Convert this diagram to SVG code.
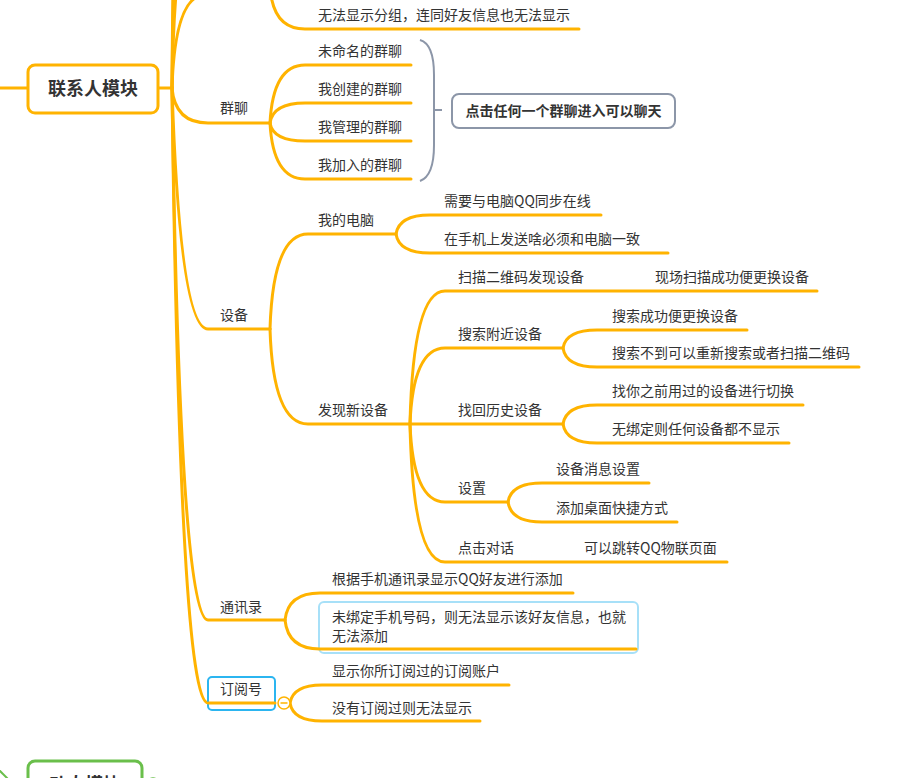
<svg xmlns="http://www.w3.org/2000/svg" width="903" height="778" viewBox="0 0 903 778">
<style>
.c{fill:none;stroke:#FFB300;stroke-width:3;stroke-linecap:round}
.t{font-family:"Noto Sans CJK SC","Noto Sans",sans-serif;font-size:14px;fill:#333}
.b{font-family:"Noto Sans CJK SC","Noto Sans",sans-serif;font-weight:bold;fill:#333}
</style>
<rect width="903" height="778" fill="#fff"/>
<g id="connectors">
<path class="c" d="M0,88 L28,88 M158,88 L172,88"/>
<path class="c" d="M172,88 Q175,-5 205,-5"/>
<path class="c" d="M172,88 Q175,-100 205,-100"/>
<path class="c" d="M172,88 Q175,-250 205,-250"/>
<path class="c" d="M172,88 Q175,-400 205,-400"/>
<path class="c" d="M270,-15 Q272,29 305,29 L579,29"/>
<path class="c" d="M172,88 Q175,123 208,123 L270,123"/>
<path class="c" d="M270,123 Q273,65 305,65 L411,65"/>
<path class="c" d="M270,123 Q273,103 305,103 L411,103"/>
<path class="c" d="M270,123 Q273,141 305,141 L411,141"/>
<path class="c" d="M270,123 Q273,179 305,179 L411,179"/>
<path class="c" d="M172,88 Q180,329 208,329 L270,329"/>
<path class="c" d="M270,329 Q273,234 308,234 L396,234"/>
<path class="c" d="M270,329 Q273,424 308,424 L563,424"/>
<path class="c" d="M396,234 Q399,215 430,215 L601,215"/>
<path class="c" d="M396,234 Q399,253 430,253 L668,253"/>
<path class="c" d="M410,424 Q413,291 445,291 L817,291"/>
<path class="c" d="M410,424 Q413,348 445,348 L563,348"/>
<path class="c" d="M410,424 Q413,502 445,502 L508,502"/>
<path class="c" d="M410,424 Q413,562 445,562 L727,562"/>
<path class="c" d="M563,348 Q566,330 597,330 L747,330"/>
<path class="c" d="M563,348 Q566,367 597,367 L859,367"/>
<path class="c" d="M563,424 Q566,405 597,405 L803,405"/>
<path class="c" d="M563,424 Q566,443 597,443 L789,443"/>
<path class="c" d="M508,502 Q511,483 542,483 L649,483"/>
<path class="c" d="M508,502 Q511,522 542,522 L677,522"/>
<path class="c" d="M172,88 Q180,620 208,620 L285,620"/>
<path class="c" d="M285,620 Q288,593 320,593 L573,593"/>
<path class="c" d="M172,88 Q180,703 208,703"/>
<path class="c" d="M290,703 Q293,685 322,685 L509,685"/>
<path class="c" d="M290,703 Q293,721 322,721 L480,721"/>
<path d="M420,40 Q434,44 434,75 L434,145 Q434,176 420,181 M434,110 L442,110" fill="none" stroke="#8c96a8" stroke-width="2"/>
<path d="M-5,766 L16,787" fill="none" stroke="#6abf4b" stroke-width="2"/>
</g>
<g id="root">
<rect x="28" y="65" width="130" height="48" rx="7" fill="#fff" stroke="#FFB300" stroke-width="3"/>
<text class="b" x="93" y="95" font-size="18" text-anchor="middle">联系人模块</text>
</g>
<g id="n-top"><text class="t" x="318" y="20">无法显示分组，连同好友信息也无法显示</text></g>
<g id="n-qunliao"><text class="t" x="220" y="113">群聊</text></g>
<g id="n-q1"><text class="t" x="318" y="56">未命名的群聊</text></g>
<g id="n-q2"><text class="t" x="318" y="94">我创建的群聊</text></g>
<g id="n-q3"><text class="t" x="318" y="132">我管理的群聊</text></g>
<g id="n-q4"><text class="t" x="318" y="170">我加入的群聊</text></g>
<g id="n-callout">
<rect x="452" y="94" width="223" height="34" rx="7" fill="#fff" stroke="#8c96a8" stroke-width="2"/>
<text class="b" x="563.5" y="116" font-size="14" text-anchor="middle">点击任何一个群聊进入可以聊天</text>
</g>
<g id="n-shebei"><text class="t" x="220" y="320">设备</text></g>
<g id="n-pc"><text class="t" x="318" y="225">我的电脑</text></g>
<g id="n-pc1"><text class="t" x="444" y="206">需要与电脑QQ同步在线</text></g>
<g id="n-pc2"><text class="t" x="444" y="244">在手机上发送啥必须和电脑一致</text></g>
<g id="n-new"><text class="t" x="318" y="415">发现新设备</text></g>
<g id="n-scan"><text class="t" x="458" y="282">扫描二维码发现设备</text></g>
<g id="n-scan1"><text class="t" x="655" y="282">现场扫描成功便更换设备</text></g>
<g id="n-search"><text class="t" x="458" y="339">搜索附近设备</text></g>
<g id="n-search1"><text class="t" x="612" y="321">搜索成功便更换设备</text></g>
<g id="n-search2"><text class="t" x="612" y="358">搜索不到可以重新搜索或者扫描二维码</text></g>
<g id="n-hist"><text class="t" x="458" y="415">找回历史设备</text></g>
<g id="n-hist1"><text class="t" x="612" y="396">找你之前用过的设备进行切换</text></g>
<g id="n-hist2"><text class="t" x="612" y="434">无绑定则任何设备都不显示</text></g>
<g id="n-set"><text class="t" x="458" y="493">设置</text></g>
<g id="n-set1"><text class="t" x="556" y="474">设备消息设置</text></g>
<g id="n-set2"><text class="t" x="556" y="513">添加桌面快捷方式</text></g>
<g id="n-talk"><text class="t" x="458" y="553">点击对话</text></g>
<g id="n-talk1"><text class="t" x="584" y="553">可以跳转QQ物联页面</text></g>
<g id="n-contacts"><text class="t" x="220" y="612">通讯录</text></g>
<g id="n-c1"><text class="t" x="332" y="584">根据手机通讯录显示QQ好友进行添加</text></g>
<g id="n-c2">
<rect x="319" y="602" width="319" height="51" rx="5" fill="#fff" stroke="#a7e0f8" stroke-width="2"/>
<path class="c" d="M285,620 Q288,649 320,649 L636,649"/>
<text class="t" x="332" y="622">未绑定手机号码，则无法显示该好友信息，也就</text>
<text class="t" x="332" y="641">无法添加</text>
</g>
<g id="n-sub">
<rect x="208" y="677" width="67" height="33" rx="4" fill="#fff" stroke="#2bb5f0" stroke-width="2"/>
<path class="c" d="M208,703 L275,703"/>
<text class="t" x="220" y="694">订阅号</text>
<circle cx="284" cy="703" r="6" fill="#fff" stroke="#FFB300" stroke-width="1.5"/>
<path d="M280.5,703 L287.5,703" stroke="#FFB300" stroke-width="1.5"/>
</g>
<g id="n-sub1"><text class="t" x="332" y="676">显示你所订阅过的订阅账户</text></g>
<g id="n-sub2"><text class="t" x="332" y="713">没有订阅过则无法显示</text></g>
<g id="n-dongtai">
<rect x="28" y="761" width="114" height="48" rx="7" fill="#fff" stroke="#6abf4b" stroke-width="3"/>
<text class="b" x="85" y="791" font-size="18" text-anchor="middle">动态模块</text>
<circle cx="153" cy="784" r="6" fill="#fff" stroke="#6abf4b" stroke-width="1.5"/>
</g>
</svg>
